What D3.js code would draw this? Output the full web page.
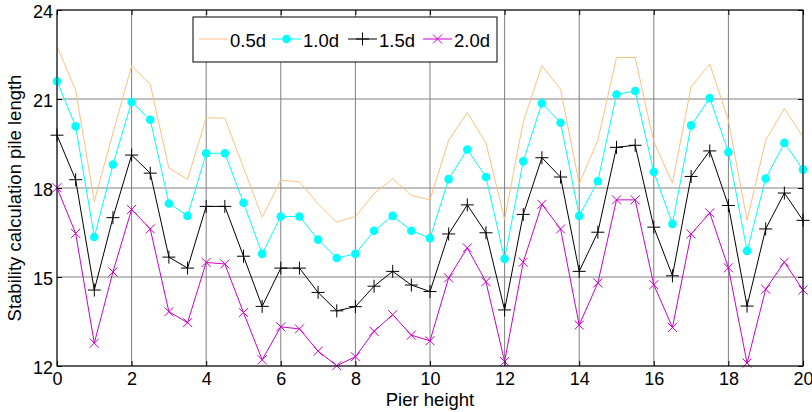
<!DOCTYPE html>
<html>
<head>
<meta charset="utf-8">
<script src="https://cdn.jsdelivr.net/npm/d3@7"></script>
<style>
  body { margin: 0; background: #fff; }
  svg { display: block; font-family: "Liberation Sans", Arial, sans-serif; }
</style>
</head>
<body>
<svg id="chart"></svg>
<script>
const width = 812;
const height = 412;

// pier height (x) every 0.5
const pierHeight = d3.range(0, 20.01, 0.5);

const s05 = [22.78, 21.30, 17.55, 19.85, 22.12, 21.49, 18.67, 18.29, 20.37, 20.35,
  18.68, 17.02, 18.26, 18.21, 17.47, 16.85, 17.04, 17.81, 18.31, 17.75,
  17.60, 19.61, 20.54, 19.52, 16.94, 20.23, 22.12, 21.33, 18.14, 19.61,
  22.40, 22.40, 19.55, 18.17, 21.41, 22.18, 20.28, 16.91, 19.61, 20.68, 19.72];
const s10 = [21.60, 20.08, 16.35, 18.79, 20.90, 20.30, 17.48, 17.06, 19.17, 19.17,
  17.50, 15.78, 17.04, 17.04, 16.26, 15.64, 15.78, 16.56, 17.06, 16.56,
  16.31, 18.30, 19.30, 18.37, 15.61, 18.90, 20.86, 20.20, 17.06, 18.23,
  21.15, 21.27, 18.54, 16.79, 20.11, 21.03, 19.21, 15.88, 18.32, 19.52, 18.62];
const s15 = [19.78, 18.28, 14.56, 17.00, 19.11, 18.50, 15.67, 15.30, 17.38, 17.38,
  15.70, 14.01, 15.30, 15.30, 14.48, 13.86, 14.00, 14.69, 15.19, 14.73,
  14.51, 16.45, 17.43, 16.49, 13.89, 17.11, 19.02, 18.37, 15.19, 16.51,
  19.37, 19.44, 16.68, 15.04, 18.39, 19.25, 17.41, 14.02, 16.62, 17.83, 16.91];
const s20 = [18.01, 16.47, 12.77, 15.17, 17.28, 16.62, 13.83, 13.46, 15.49, 15.44,
  13.80, 12.21, 13.32, 13.25, 12.50, 12.01, 12.31, 13.17, 13.73, 13.04,
  12.85, 14.97, 15.98, 14.84, 12.15, 15.50, 17.45, 16.62, 13.38, 14.80,
  17.60, 17.60, 14.74, 13.30, 16.45, 17.16, 15.31, 12.10, 14.59, 15.50, 14.56];

const seriesNames = ["0.5d", "1.0d", "1.5d", "2.0d"];
const seriesColors = ["#ffc080", "#00ffff", "#000000", "#cc00cc"];
const seriesMarkers = ["none", "dot", "plus", "cross"];
const seriesValues = [s05, s10, s15, s20];

const xTicks = [0, 2, 4, 6, 8, 10, 12, 14, 16, 18, 20];
const yTicks = [12, 15, 18, 21, 24];

const fontSize = 18;
const margin = { top: 10, right: 9, bottom: 46, left: 57 };
const iw = width - margin.left - margin.right;
const ih = height - margin.top - margin.bottom;

const svg = d3.select("#chart").attr("width", width).attr("height", height);
const g = svg.append("g").attr("transform", `translate(${margin.left},${margin.top})`);

const x = d3.scaleLinear().domain([0, 20]).range([0, iw]);
const y = d3.scaleLinear().domain([12, 24]).range([ih, 0]);

// grid
g.append("g").selectAll("line").data(xTicks).enter().append("line")
  .attr("x1", d => x(d)).attr("x2", d => x(d)).attr("y1", 0).attr("y2", ih)
  .attr("stroke", "#808080").attr("stroke-width", 1);
g.append("g").selectAll("line").data(yTicks).enter().append("line")
  .attr("y1", d => y(d)).attr("y2", d => y(d)).attr("x1", 0).attr("x2", iw)
  .attr("stroke", "#808080").attr("stroke-width", 1);

// series
const line = d3.line().x((d, i) => x(pierHeight[i])).y(d => y(d));
seriesValues.forEach((vals, k) => {
  const sg = g.append("g");
  sg.append("path").datum(vals).attr("d", line)
    .attr("fill", "none").attr("stroke", seriesColors[k]).attr("stroke-width", 1);
  vals.forEach((v, i) => drawMarker(sg, x(pierHeight[i]), y(v), seriesMarkers[k], seriesColors[k]));
});

function drawMarker(sel, px, py, type, color) {
  if (type === "dot") {
    sel.append("circle").attr("cx", px).attr("cy", py).attr("r", 4.3).attr("fill", color);
  } else if (type === "plus") {
    sel.append("path").attr("d", `M${px - 6.5},${py}H${px + 6.5}M${px},${py - 6.5}V${py + 6.5}`)
      .attr("stroke", color).attr("stroke-width", 1);
  } else if (type === "cross") {
    sel.append("path").attr("d", `M${px - 4.5},${py - 4.5}L${px + 4.5},${py + 4.5}M${px - 4.5},${py + 4.5}L${px + 4.5},${py - 4.5}`)
      .attr("stroke", color).attr("stroke-width", 1);
  }
}

// axes (ticks inside, boxed)
const tickLen = 5;
const axB = g.append("g").attr("transform", `translate(0,${ih})`)
  .call(d3.axisBottom(x).tickValues(xTicks).tickSizeInner(-tickLen).tickSizeOuter(0).tickPadding(6));
const axL = g.append("g")
  .call(d3.axisLeft(y).tickValues(yTicks).tickSizeInner(-tickLen).tickSizeOuter(0).tickPadding(4));
g.append("g").call(d3.axisTop(x).tickValues(xTicks).tickSizeInner(-tickLen).tickSizeOuter(0).tickFormat(""));
g.append("g").attr("transform", `translate(${iw},0)`)
  .call(d3.axisRight(y).tickValues(yTicks).tickSizeInner(-tickLen).tickSizeOuter(0).tickFormat(""));
g.selectAll(".domain").remove();
g.selectAll(".tick line").attr("stroke", "#000");
g.selectAll(".tick text").attr("font-size", fontSize).attr("font-family", "Liberation Sans, Arial, sans-serif").attr("fill", "#000");
axL.selectAll(".tick text").attr("dy", "0.42em");

g.append("rect").attr("width", iw).attr("height", ih)
  .attr("fill", "none").attr("stroke", "#000").attr("stroke-width", 1);

// axis labels
svg.append("text").attr("x", margin.left + iw / 2).attr("y", 406)
  .attr("text-anchor", "middle").attr("font-size", 18.5).text("Pier height");
svg.append("text").attr("transform", `translate(21,198) rotate(-90)`)
  .attr("text-anchor", "middle").attr("font-size", 18.5).text("Stability calculation pile length");

// legend
const lg = svg.append("g").attr("transform", "translate(193,17)");
lg.append("rect").attr("width", 304).attr("height", 45)
  .attr("fill", "#fff").attr("stroke", "#000").attr("stroke-width", 1);
const itemX = [6, 79, 155, 230];
seriesNames.forEach((name, k) => {
  const ig = lg.append("g").attr("transform", `translate(${itemX[k]},22)`);
  ig.append("line").attr("x1", 0).attr("x2", 29).attr("y1", 0).attr("y2", 0)
    .attr("stroke", seriesColors[k]).attr("stroke-width", 1);
  drawMarker(ig, 14.5, 0, seriesMarkers[k], seriesColors[k]);
  ig.append("text").attr("x", 31).attr("y", 8).attr("font-size", 18.5).text(name);
});
</script>
</body>
</html>
